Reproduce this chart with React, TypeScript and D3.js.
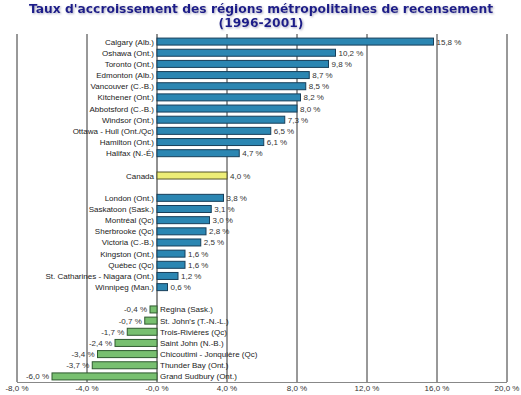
import React from 'react';
import * as d3 from 'd3';

// Chart data
const titleLines = ["Taux d'accroissement des régions métropolitaines de recensement", '(1996-2001)'];

const growthCities = [
  'Calgary (Alb.)', 'Oshawa (Ont.)', 'Toronto (Ont.)', 'Edmonton (Alb.)', 'Vancouver (C.-B.)',
  'Kitchener (Ont.)', 'Abbotsford (C.-B.)', 'Windsor (Ont.)', 'Ottawa - Hull (Ont./Qc)',
  'Hamilton (Ont.)', 'Halifax (N.-É)',
];
const growthValues = [15.8, 10.2, 9.8, 8.7, 8.5, 8.2, 8.0, 7.3, 6.5, 6.1, 4.7];

const nationLabel = ['Canada'];
const nationValue = [4.0];

const slowCities = [
  'London (Ont.)', 'Saskatoon (Sask.)', 'Montréal (Qc)', 'Sherbrooke (Qc)', 'Victoria (C.-B.)',
  'Kingston (Ont.)', 'Québec (Qc)', 'St. Catharines - Niagara (Ont.)', 'Winnipeg (Man.)',
];
const slowValues = [3.8, 3.1, 3.0, 2.8, 2.5, 1.6, 1.6, 1.2, 0.6];

const declineCities = [
  'Regina (Sask.)', "St. John's (T.-N.-L.)", 'Trois-Rivières (Qc)', 'Saint John (N.-B.)',
  'Chicoutimi - Jonquière (Qc)', 'Thunder Bay (Ont.)', 'Grand Sudbury (Ont.)',
];
const declineValues = [-0.4, -0.7, -1.7, -2.4, -3.4, -3.7, -6.0];

const tickValues = [-8, -4, 0, 4, 8, 12, 16, 20];
const tickLabels = ['-8,0 %', '-4,0 %', '-0,0 %', '4,0 %', '8,0 %', '12,0 %', '16,0 %', '20,0 %'];

const W = 521;
const H = 395;
const font = '"Liberation Sans", Arial, sans-serif';
const titleFont = '"DejaVu Sans", Verdana, sans-serif';

type Row = { key: string; name: string; value: number | null; kind: string };

const fmt = (v: number) => v.toFixed(1).replace('.', ',') + ' %';

export default function App() {
  // build the rows, with empty slots between the groups
  const rows: Row[] = [];
  growthCities.forEach((c, i) => rows.push({ key: c, name: c, value: growthValues[i], kind: 'pos' }));
  rows.push({ key: 'gap1', name: '', value: null, kind: 'gap' });
  nationLabel.forEach((c, i) => rows.push({ key: c, name: c, value: nationValue[i], kind: 'nation' }));
  rows.push({ key: 'gap2', name: '', value: null, kind: 'gap' });
  slowCities.forEach((c, i) => rows.push({ key: c, name: c, value: slowValues[i], kind: 'pos' }));
  rows.push({ key: 'gap3', name: '', value: null, kind: 'gap' });
  declineCities.forEach((c, i) => rows.push({ key: c, name: c, value: declineValues[i], kind: 'neg' }));

  const x = d3.scaleLinear().domain([-8, 20]).range([17, 507]);
  const y = d3.scaleBand<string>().domain(rows.map(r => r.key)).range([36, 382]);
  const barH = 7;
  const x0 = x(0);

  const fill = (k: string) => (k === 'nation' ? '#eeee77' : k === 'neg' ? '#78c070' : '#2b86b2');
  const stroke = (k: string) => (k === 'nation' ? '#55552a' : k === 'neg' ? '#2f5a2f' : '#173f5a');

  return (
    <svg width={W} height={H} style={{ position: 'absolute', left: 0, top: 0, background: '#fff' }}>
      <defs>
        <filter id="shadow" x="-5%" y="-20%" width="110%" height="150%">
          <feDropShadow dx="1" dy="1" stdDeviation="0.8" floodColor="#8888aa" floodOpacity="0.7" />
        </filter>
      </defs>
      <g filter="url(#shadow)">
        {titleLines.map((t, i) => (
          <text key={i} x={261} y={13 + i * 14} textAnchor="middle" fontFamily={titleFont} fontWeight="bold"
            fontSize={12.3} fill="#1c1c8a">{t}</text>
        ))}
      </g>

      {/* grid lines */}
      {tickValues.map(t => (
        <line key={t} x1={x(t)} x2={x(t)} y1={34} y2={382} stroke={t === 0 ? '#222' : '#333'} strokeWidth={1} />
      ))}
      <line x1={x(-8)} x2={x(20)} y1={382.5} y2={382.5} stroke="#888" strokeWidth={1} />

      {/* bars */}
      {rows.filter(r => r.value !== null).map(r => {
        const v = r.value as number;
        const cy = (y(r.key) as number) + y.bandwidth() / 2;
        const bx = Math.min(x(v), x0);
        const bw = Math.abs(x(v) - x0);
        const pos = v >= 0;
        return (
          <g key={r.key} fontFamily={font} fontSize={8} fill="#222">
            <rect x={bx} y={cy - barH / 2} width={bw} height={barH} fill={fill(r.kind)} stroke={stroke(r.kind)} strokeWidth={1} />
            <text x={pos ? x0 - 3 : x0 + 3} y={cy + 3} textAnchor={pos ? 'end' : 'start'}>{r.name}</text>
            <text x={pos ? x(v) + 3 : x(v) - 3} y={cy + 3} textAnchor={pos ? 'start' : 'end'} fill="#333">{fmt(v)}</text>
          </g>
        );
      })}

      {/* bottom tick labels */}
      {tickValues.map((t, i) => (
        <text key={t} x={x(t)} y={391} textAnchor="middle" fontFamily={font} fontSize={8} fill="#333">{tickLabels[i]}</text>
      ))}
    </svg>
  );
}
